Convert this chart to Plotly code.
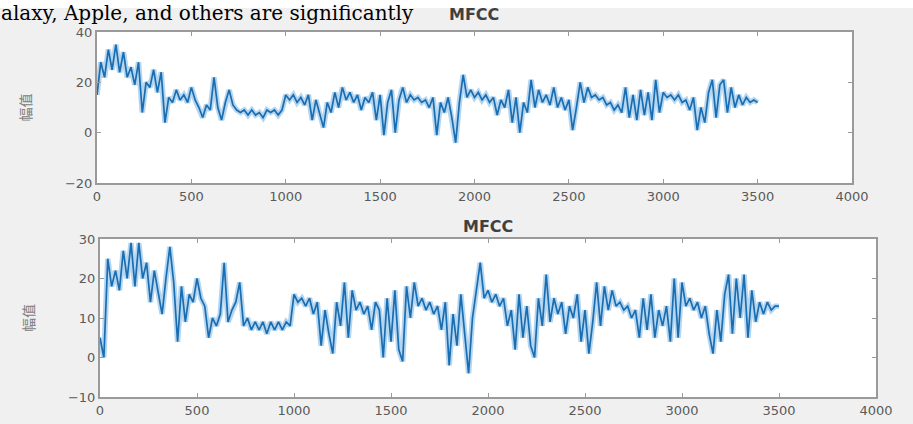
import plotly.graph_objects as go

step = 20
mfcc_top = [15, 28, 22, 33, 25, 35, 24, 32, 22, 26, 19, 28, 8, 20, 18, 25, 16, 24, 4, 14,
            12, 17, 13, 15, 12, 18, 13, 10, 6, 11, 9, 22, 10, 5, 12, 17, 11, 9, 8, 9,
            7, 9, 7, 8, 6, 9, 8, 9, 7, 9, 15, 13, 15, 12, 14, 11, 15, 5, 13, 7,
            2, 12, 8, 16, 10, 18, 13, 16, 12, 15, 9, 14, 12, 16, 5, 15, -1, 12, 17, 0,
            13, 18, 12, 15, 13, 14, 12, 13, 10, 14, -1, 12, 8, 14, 6, -4, 12, 23, 14, 17,
            14, 16, 13, 15, 12, 14, 7, 13, 10, 17, 4, 14, 0, 12, 8, 21, 10, 17, 12, 15,
            11, 18, 10, 14, 9, 13, 1, 10, 20, 12, 18, 14, 15, 13, 14, 11, 12, 9, 11, 8,
            18, 6, 15, 5, 17, 7, 16, 5, 21, 8, 16, 14, 15, 13, 15, 12, 13, 9, 14, 1,
            10, 4, 16, 21, 6, 19, 21, 8, 18, 10, 15, 11, 14, 12, 13, 12]
mfcc_bottom = [5, 0, 25, 18, 22, 17, 27, 20, 29, 18, 29, 20, 24, 14, 22, 16, 11, 20, 28, 19,
               4, 18, 9, 16, 14, 20, 15, 13, 5, 10, 8, 11, 24, 9, 12, 14, 19, 8, 10, 7,
               9, 7, 9, 6, 9, 7, 9, 7, 9, 8, 16, 14, 15, 13, 15, 11, 14, 3, 12, 6,
               1, 14, 8, 19, 5, 17, 12, 14, 11, 13, 7, 14, 12, 0, 15, 4, 17, 2, -1, 18,
               10, 19, 13, 15, 12, 14, 11, 13, 7, 14, -2, 11, 3, 16, 6, -4, 10, 17, 24, 15,
               17, 14, 16, 13, 15, 8, 12, 2, 16, 5, 13, 3, 0, 15, 8, 21, 9, 15, 11, 14,
               6, 13, 10, 16, 4, 12, 1, 9, 19, 8, 18, 12, 17, 13, 14, 12, 13, 10, 12, 5,
               15, 7, 16, 5, 12, 8, 13, 4, 20, 5, 19, 13, 15, 12, 14, 10, 13, 6, 1, 12,
               4, 16, 21, 6, 20, 10, 21, 5, 17, 9, 14, 11, 14, 12, 13, 13]
x_ticks = [0, 500, 1000, 1500, 2000, 2500, 3000, 3500, 4000]
y_ticks_top = [-20, 0, 20, 40]
y_ticks_bottom = [-10, 0, 10, 20, 30]
title_text = "MFCC"
y_label = "幅值"
header_text = "alaxy, Apple, and others are significantly"

x_top = [i * step for i in range(len(mfcc_top))]
x_bot = [i * step for i in range(len(mfcc_bottom))]

W, H = 913, 424
line_color = "#1a6db0"
halo_color = "rgba(120,180,230,0.55)"
axis_color = "#9a9a9a"
tick_font = dict(family="DejaVu Sans", size=13, color="#5a5a5a")

fig = go.Figure()
for xs, ys, xax, yax in [(x_top, mfcc_top, "x", "y"), (x_bot, mfcc_bottom, "x2", "y2")]:
    fig.add_trace(go.Scatter(x=xs, y=ys, mode="lines",
                             line=dict(color=halo_color, width=5.5),
                             xaxis=xax, yaxis=yax, showlegend=False, hoverinfo="skip"))
    fig.add_trace(go.Scatter(x=xs, y=ys, mode="lines",
                             line=dict(color=line_color, width=1.7),
                             xaxis=xax, yaxis=yax, showlegend=False))

def xa(domain, anchor):
    return dict(domain=domain, anchor=anchor, range=[0, 4000], tickvals=x_ticks,
                ticks="inside", ticklen=4, tickcolor=axis_color, showgrid=False,
                zeroline=False, showline=True, linecolor=axis_color, linewidth=2,
                mirror="ticks", tickfont=tick_font, automargin=False)

def ya(domain, anchor, rng, tv):
    return dict(domain=domain, anchor=anchor, range=rng, tickvals=tv,
                ticks="inside", ticklen=4, tickcolor=axis_color, showgrid=False,
                zeroline=False, showline=True, linecolor=axis_color, linewidth=2,
                mirror="ticks", tickfont=tick_font, automargin=False,
                title=dict(text=y_label, standoff=30,
                           font=dict(family="Noto Sans CJK SC", size=14, color="#808080")))

fig.update_layout(
    width=W, height=H,
    margin=dict(l=0, r=0, t=0, b=0, autoexpand=False),
    paper_bgcolor="#f0f0f0",
    plot_bgcolor="white",
    xaxis=xa([97 / W, 852 / W], "y"),
    yaxis=ya([1 - 183 / H, 1 - 32 / H], "x", [-20, 40], y_ticks_top),
    xaxis2=xa([100 / W, 876 / W], "y2"),
    yaxis2=ya([1 - 397 / H, 1 - 239 / H], "x2", [-10, 30], y_ticks_bottom),
    shapes=[dict(type="rect", xref="paper", yref="paper", x0=0, x1=1,
                 y0=1 - 8 / H, y1=1, fillcolor="white", line=dict(width=0), layer="below")],
    annotations=[
        dict(text="<b>" + title_text + "</b>", xref="paper", yref="paper",
             x=474 / W, y=1 - 15 / H, showarrow=False, xanchor="center", yanchor="middle",
             font=dict(family="DejaVu Sans", size=16, color="#404040")),
        dict(text="<b>" + title_text + "</b>", xref="paper", yref="paper",
             x=488 / W, y=1 - 227 / H, showarrow=False, xanchor="center", yanchor="middle",
             font=dict(family="DejaVu Sans", size=16, color="#404040")),
        dict(text=header_text, xref="paper", yref="paper", x=0, y=1,
             showarrow=False, xanchor="left", yanchor="top", borderpad=0,
             font=dict(family="DejaVu Serif", size=20, color="black")),
    ],
)

fig.write_html("out.html", config={"displayModeBar": False},
               post_script="document.body.style.margin='0px';")
